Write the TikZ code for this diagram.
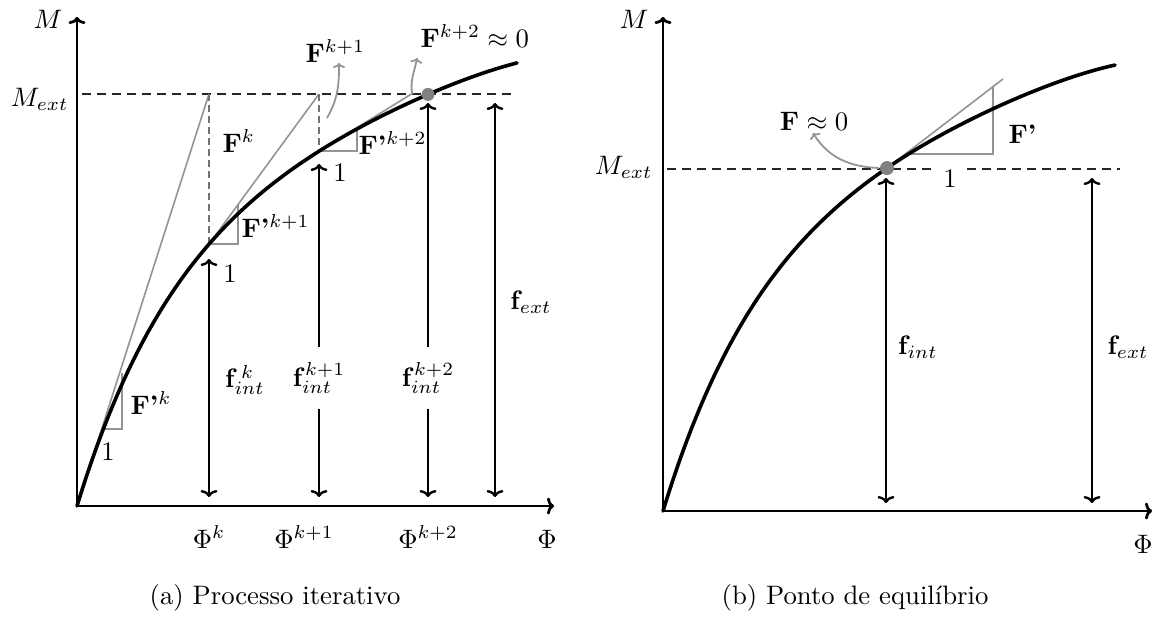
\documentclass[tikz,border=0pt]{standalone}
\usetikzlibrary{arrows.meta}
\definecolor{lgray}{gray}{0.58}
\definecolor{dgray}{gray}{0.45}
\definecolor{dotgray}{gray}{0.5}
\tikzset{
  declare function={g(\t)=289.5*(1-exp(-\t/100))+0.3764*\t-8.5*(\t/440)^8;},
  cmtip/.tip={Computer Modern Rightarrow[length=7pt,width=17pt]},
  smalltip/.tip={Computer Modern Rightarrow[length=5pt,width=12pt]},
  curvestyle/.style={line width=3.6pt,black,line cap=round},
  axisstyle/.style={line width=2.8pt,black,line join=miter,cmtip-cmtip},
  dimboth/.style={line width=2.4pt,black,cmtip-cmtip},
  dimup/.style={line width=2.4pt,black,-cmtip},
  grayline/.style={line width=1.6pt,lgray},
  grayarrow/.style={line width=1.8pt,lgray,-smalltip},
  dashedblack/.style={line width=1.6pt,black!85,dash pattern=on 9pt off 6pt},
  dashedgray/.style={line width=2pt,dgray,dash pattern=on 7pt off 4pt},
  lbl/.style={scale=2.67,inner sep=0pt}
}
\begin{document}
\begin{tikzpicture}[x=1pt,y=-1pt]
\useasboundingbox (0,0) rectangle (1167,619);

%% ================= Panel (a) =================
\coordinate (Oa) at (77,506);
\coordinate (Ya) at (77,17);
\coordinate (Xa) at (554,506);
\coordinate (P1) at (209,{506-g(132)});
\coordinate (P2) at (319,{506-g(242)});
\coordinate (P3) at (428,{506-g(351)});

% dashed M_ext line
\coordinate (Ma1) at (82,94);
\coordinate (Ma2) at (515,94);
\draw[dashedblack] (Ma1) -- (Ma2);

% tangent lines and dashed verticals
\coordinate (T1) at (209,94);
\coordinate (T2) at (319,94);
\coordinate (T3) at (413,93);
\draw[grayline] (Oa) -- (T1);
\draw[grayline] (P1) -- (T2);
\draw[grayline] (P2) -- (T3);
\draw[dashedgray] (T1) -- (P1);
\draw[dashedgray] (T2) -- (P2);

% slope triangles
\draw[grayline] (103,429) -- (122,429) -- (122,373);
\draw[grayline] (P1) -- ++(29,0) -- ++(0,-39);
\draw[grayline] (P2) -- ++(38,0) -- ++(0,-22);

% curve
\draw[curvestyle] plot[domain=0:440,samples=150,smooth] ({77+\x},{506-g(\x)});

% axes
\draw[axisstyle] (Ya) -- (Oa) -- (Xa);

% dot
\fill[dotgray] (P3) circle[radius=6.5pt];

% curved gray arrows
\coordinate (c1s) at (327,118);
\coordinate (c1e) at (339,63);
\draw[grayarrow] (c1s) to[out=60,in=-90] (c1e);
\coordinate (c2s) at (412,93);
\coordinate (c2e) at (417,58);
\draw[grayarrow] (c2s) to[out=98,in=-100] (c2e);

% vertical double arrows
\coordinate (A1t) at (209,259);
\coordinate (A1b) at (209,497);
\draw[dimboth] (A1b) -- (A1t);
\node[lbl] (fik) at (245,380) {$\mathbf{f}_{int}^{\,k}$};

\coordinate (A2t) at (319,164);
\coordinate (A2b) at (319,497);
\node[lbl,minimum height=22.5pt] (fik1) at (319,378) {$\mathbf{f}_{int}^{k+1}$};
\draw[dimup] (fik1.north) -- (A2t);
\draw[dimup] (fik1.south) -- (A2b);

\coordinate (A3t) at (428,103);
\coordinate (A3b) at (428,497);
\node[lbl,minimum height=22.5pt] (fik2) at (428,378) {$\mathbf{f}_{int}^{k+2}$};
\draw[dimup] (fik2.north) -- (A3t);
\draw[dimup] (fik2.south) -- (A3b);

\coordinate (A4t) at (495,103);
\coordinate (A4b) at (495,497);
\draw[dimboth] (A4b) -- (A4t);
\node[lbl] (fexta) at (531,302) {$\mathbf{f}_{ext}$};

% labels
\node[lbl,anchor=base] (Ma) at (48,28) {$M$};
\node[lbl,anchor=base east] (Mexta) at (69,106) {$M_{ext}$};
\node[lbl,anchor=base west] (Fk) at (222,152) {$\mathbf{F}^{k}$};
\node[lbl,anchor=base west] (Fk1) at (305,62) {$\mathbf{F}^{k+1}$};
\node[lbl,anchor=base west] (Fk2) at (420,47) {$\mathbf{F}^{k+2}\approx 0$};
\node[lbl,anchor=base west] (Fpk) at (130,414) {\textbf{F'}$^{k}$};
\node[lbl,anchor=base west] (Fpk1) at (241,237) {\textbf{F'}$^{k+1}$};
\node[lbl,anchor=base west] (Fpk2) at (358,154) {\textbf{F'}$^{k+2}$};
\node[lbl,anchor=base] (one1) at (108,460) {1};
\node[lbl,anchor=base] (one2) at (230,282) {1};
\node[lbl,anchor=base] (one3) at (340,181) {1};
\node[lbl,anchor=base] (Phik) at (209,548) {$\Phi^{k}$};
\node[lbl,anchor=base] (Phik1) at (304,548) {$\Phi^{k+1}$};
\node[lbl,anchor=base] (Phik2) at (428,548) {$\Phi^{k+2}$};
\node[lbl,anchor=base] (Phia) at (547,548) {$\Phi$};
\node[lbl,anchor=base] (capa) at (275,604) {(a) Processo iterativo};

%% ================= Panel (b) =================
\coordinate (Ob) at (663,511);
\coordinate (Yb) at (663,17);
\coordinate (Xb) at (1152,511);
\coordinate (Q) at (887,{511-g(224)});

\coordinate (Mb1) at (667,169);
\coordinate (Mb2) at (1120,169);
\draw[dashedblack] (Mb1) -- (Mb2);

% tangent and triangle
\coordinate (Tb) at (1003,79);
\draw[grayline] (Q) -- (Tb);
\draw[grayline] (908,154) -- (993,154) -- (993,86);

% curve
\draw[curvestyle] plot[domain=0:452,samples=150,smooth] ({663+\x},{511-g(\x)});

\draw[axisstyle] (Yb) -- (Ob) -- (Xb);

\fill[dotgray] (Q) circle[radius=7pt];

% curved arrow
\coordinate (c3s) at (879,168);
\coordinate (c3e) at (813,133);
\draw[grayarrow] (c3s) to[out=178,in=-58] (c3e);

% vertical arrows
\coordinate (B1t) at (886,178);
\coordinate (B1b) at (886,503);
\draw[dimboth] (B1b) -- (B1t);
\node[lbl] (fintb) at (918,347) {$\mathbf{f}_{int}$};
\coordinate (B2t) at (1092,178);
\coordinate (B2b) at (1092,503);
\draw[dimboth] (B2b) -- (B2t);
\node[lbl] (fextb) at (1128,347) {$\mathbf{f}_{ext}$};

% labels
\node[lbl,anchor=base] (Mb) at (634,28) {$M$};
\node[lbl,anchor=base east] (Mextb) at (653,174) {$M_{ext}$};
\node[lbl,anchor=base] (Fzero) at (814,130) {$\mathbf{F}\approx 0$};
\node[lbl,anchor=base west] (Fpb) at (1008,143) {\textbf{F'}};
\node[lbl,anchor=base,fill=white,inner xsep=3pt,inner ysep=1pt] (oneb) at (950,187) {1};
\node[lbl,anchor=base] (Phib) at (1143,553) {$\Phi$};
\node[lbl,anchor=base] (capb) at (855,604) {(b) Ponto de equilíbrio};
\end{tikzpicture}
\end{document}
